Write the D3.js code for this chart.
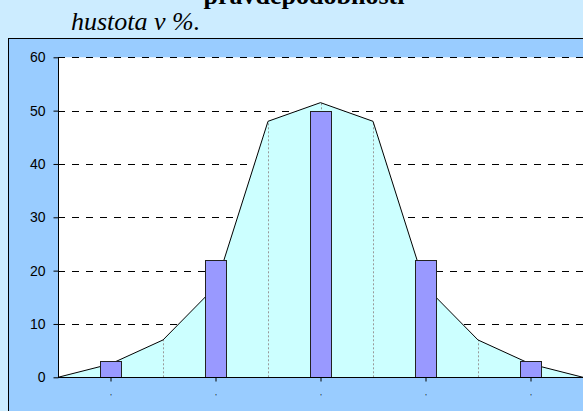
<!DOCTYPE html>
<html>
<head>
<meta charset="utf-8">
<script src="https://cdn.jsdelivr.net/npm/d3@7/dist/d3.min.js"></script>
<style>
  body { margin: 0; background: #ccecff; }
  svg { display: block; }
  .serif { font-family: "Liberation Serif", "Times New Roman", Times, serif; }
</style>
</head>
<body>
<svg></svg>
<script>
// bar categories (labels are tiny marks in the picture)
var barLabels = ["'", "'", "'", "'", "'"];
var barValues = [3, 22, 50, 22, 3];
// density curve, 11 points over the same axis
var curveValues = [0, 2.5, 7, 17, 48, 51.5, 48, 17, 7, 2.5, 0];
var yTicks = [0, 10, 20, 30, 40, 50, 60];

var svgWidth = 583, svgHeight = 411;
var plot = {left: 58, top: 57.3, right: 583, bottom: 377.3};

var svg = d3.select("svg")
  .attr("width", svgWidth)
  .attr("height", svgHeight);

// titles (the first line is cut off at the top, as in the original)
svg.append("text")
  .classed("serif", true)
  .attr("x", 304).attr("y", 4)
  .attr("text-anchor", "middle")
  .style("font-weight", "bold")
  .style("font-size", "26px")
  .text("pravděpodobnosti");

svg.append("text")
  .classed("serif", true)
  .attr("x", 71).attr("y", 30)
  .style("font-style", "italic")
  .style("font-size", "26px")
  .text("hustota v %.");

// chart box
svg.append("rect")
  .attr("x", 8.5).attr("y", 38.5)
  .attr("width", 600).attr("height", 400)
  .style("fill", "#99ccff")
  .style("stroke", "#000")
  .style("stroke-width", 1);

svg.append("rect")
  .attr("x", plot.left).attr("y", plot.top)
  .attr("width", 620 - plot.left).attr("height", plot.bottom - plot.top)
  .style("fill", "#fff");

var y = d3.scaleLinear().domain([0, 60]).range([plot.bottom, plot.top]);
var xLine = d3.scaleLinear().domain([0, curveValues.length - 1]).range([plot.left, plot.right]);
var xBar = d3.scaleBand().domain(d3.range(barValues.length))
  .range([plot.left, plot.right]).paddingInner(0.8).paddingOuter(0.4);

// grid
svg.append("g")
  .selectAll("line")
  .data(yTicks.filter(function(d){ return d > 0; }))
  .enter().append("line")
    .attr("x1", plot.left).attr("x2", 620)
    .attr("y1", function(d){ return Math.round(y(d)) + 0.5; })
    .attr("y2", function(d){ return Math.round(y(d)) + 0.5; })
    .style("stroke", "#000")
    .style("stroke-dasharray", "7,7");

// area under the curve
var area = d3.area()
  .x(function(d, i){ return xLine(i); })
  .y0(y(0))
  .y1(function(d){ return y(d); });

svg.append("path")
  .datum(curveValues)
  .attr("d", area)
  .style("fill", "#ccffff");

// drop lines
svg.append("g")
  .selectAll("line")
  .data(curveValues)
  .enter().append("line")
    .attr("x1", function(d, i){ return Math.round(xLine(i)) + 0.5; })
    .attr("x2", function(d, i){ return Math.round(xLine(i)) + 0.5; })
    .attr("y1", y(0))
    .attr("y2", function(d){ return y(d); })
    .style("stroke", "#999")
    .style("stroke-dasharray", "2,2");

var line = d3.line()
  .x(function(d, i){ return xLine(i); })
  .y(function(d){ return y(d); });

svg.append("path")
  .datum(curveValues)
  .attr("d", line)
  .style("fill", "none")
  .style("stroke", "#000")
  .style("stroke-width", 1);

// bars
svg.append("g")
  .selectAll("rect")
  .data(barValues)
  .enter().append("rect")
    .attr("x", function(d, i){ return Math.round(xBar(i)) + 0.5; })
    .attr("y", function(d){ return Math.round(y(d)) + 0.5; })
    .attr("width", Math.round(xBar.bandwidth()))
    .attr("height", function(d){ return Math.round(y(0)) - Math.round(y(d)); })
    .style("fill", "#9999ff")
    .style("stroke", "#222")
    .style("stroke-width", 1);

// axes
var yAxis = d3.axisLeft(y).tickValues(yTicks).tickSize(5).tickPadding(8);
var gy = svg.append("g")
  .attr("transform", "translate(" + (plot.left + 0.5) + ",0)")
  .call(yAxis);
gy.select(".domain").attr("d", "M0," + plot.top + "V" + plot.bottom).style("stroke", "#000");
gy.selectAll("text")
  .style("font-family", "Arial, 'Liberation Sans', sans-serif")
  .style("font-size", "14px")
  .style("fill", "#000");

var xAxis = d3.axisBottom(d3.scalePoint().domain(d3.range(barValues.length))
    .range([plot.left, plot.right]).padding(0.5))
  .tickSize(4).tickPadding(12)
  .tickFormat(function(d){ return barLabels[d]; });
var gx = svg.append("g")
  .attr("transform", "translate(0," + (Math.round(y(0)) + 0.5) + ")")
  .call(xAxis);
gx.select(".domain").attr("d", "M" + plot.left + ",0H620").style("stroke", "#000");
gx.selectAll("text")
  .style("font-family", "Arial, 'Liberation Sans', sans-serif")
  .style("font-size", "8px")
  .style("fill", "#000");
</script>
</body>
</html>
